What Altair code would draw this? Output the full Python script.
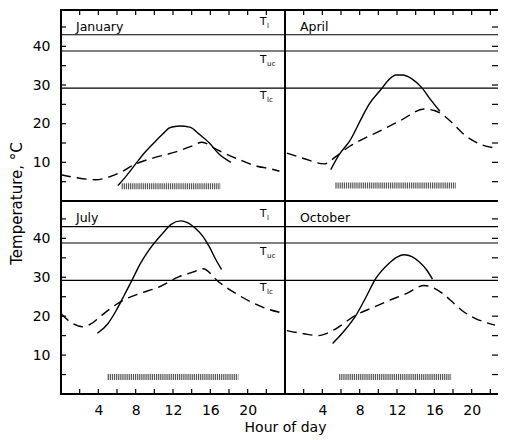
import altair as alt
import pandas as pd

FONT = "DejaVu Sans"

# ---- data ----
months = ["January", "April", "July", "October"]

jan_solid_h = [6.1, 7.0, 8.0, 9.0, 10.1, 10.9, 11.7, 12.7, 13.8, 14.8, 15.9, 16.9, 18.2]
jan_solid_t = [4.0, 6.5, 9.6, 12.6, 15.4, 17.3, 19.0, 19.4, 19.1, 17.3, 15.0, 12.2, 10.0]
jan_dash_h = [0.0, 1.5, 3.7, 5.0, 6.2, 8.0, 10.0, 12.3, 14.0, 15.1, 16.6, 19.1, 21.0, 22.3, 23.4]
jan_dash_t = [6.8, 6.1, 5.5, 6.1, 7.2, 9.6, 11.2, 12.7, 14.2, 15.2, 13.4, 10.7, 9.0, 8.4, 7.7]

apr_solid_h = [4.9, 5.8, 6.9, 8.3, 9.0, 10.3, 11.1, 11.9, 12.6, 13.6, 14.7, 15.6, 16.6]
apr_solid_t = [8.1, 12.0, 15.4, 21.9, 25.0, 28.9, 31.3, 32.6, 32.6, 31.6, 29.2, 26.2, 23.2]
apr_dash_h = [0.2, 2.0, 4.2, 5.5, 6.9, 8.5, 10.4, 12.5, 14.9, 16.0, 16.9, 18.0, 19.0, 20.0, 21.1, 22.3]
apr_dash_t = [12.4, 11.0, 9.6, 11.6, 14.1, 16.2, 18.4, 21.0, 23.8, 23.4, 22.3, 20.0, 17.6, 15.8, 14.5, 13.8]

jul_solid_h = [3.9, 5.0, 5.9, 6.8, 7.6, 8.5, 9.4, 10.9, 11.8, 12.8, 13.6, 14.4, 15.2, 15.9, 16.6, 17.2]
jul_solid_t = [15.6, 18.0, 21.4, 25.5, 29.2, 33.5, 36.9, 41.3, 43.6, 44.5, 44.0, 42.6, 40.5, 37.8, 34.5, 32.0]
jul_dash_h = [0.0, 1.0, 2.3, 3.2, 4.1, 5.2, 6.6, 8.4, 10.5, 12.6, 14.1, 15.2, 16.9, 19.1, 20.5, 22.2, 23.4]
jul_dash_t = [20.6, 18.5, 17.3, 18.0, 19.7, 21.8, 24.0, 25.8, 27.5, 30.1, 31.3, 32.2, 28.8, 25.3, 23.5, 21.8, 21.0]

oct_solid_h = [5.1, 6.2, 7.6, 8.7, 9.7, 11.1, 12.0, 12.75, 13.6, 14.4, 15.2, 15.8]
oct_solid_t = [13.0, 15.8, 20.2, 25.0, 29.6, 33.5, 35.2, 35.8, 35.3, 33.9, 31.8, 29.5]
oct_dash_h = [0.2, 2.0, 3.6, 4.5, 5.4, 7.6, 9.5, 11.1, 13.0, 14.9, 15.8, 16.9, 18.0, 19.0, 20.3, 21.5, 22.5]
oct_dash_t = [16.3, 15.5, 15.0, 15.6, 16.7, 20.3, 22.3, 24.0, 25.8, 27.9, 27.4, 25.8, 23.5, 21.4, 19.5, 18.4, 17.7]

# hatched daylight bars: start hour, end hour, level
bar_start = [6.5, 5.4, 5.0, 5.8]
bar_end = [17.1, 18.3, 19.0, 17.8]
bar_level = [3.8, 4.0, 4.4, 4.4]

# critical temperatures T_l, T_uc, T_lc
thresh_names = ["l", "uc", "lc"]
thresh_vals = [43.0, 38.8, 29.2]

y_labels = [10, 20, 30, 40]
y_ticks = [5, 10, 15, 20, 25, 30, 35, 40, 45]
x_labels = [4, 8, 12, 16, 20]
x_ticks = [2, 4, 6, 8, 10, 12, 14, 16, 18, 20, 22]


def panel(name, sh, st, dh, dt, bi, left, top, w, h, xmax, ymax):
    xs = alt.Scale(domain=[0, xmax], nice=False, zero=False)
    ys = alt.Scale(domain=[0, ymax], nice=False, zero=False)
    if left and top:
        yaxis = alt.Axis(values=y_labels, ticks=False, domain=False, grid=False,
                         labelFont=FONT, labelFontSize=14, labelPadding=11,
                         labelColor="black",
                         title="Temperature, °C", titleFont=FONT, titleFontSize=15,
                         titleFontWeight="normal", titleAngle=270, titleX=-45,
                         titleY=193, titleAlign="center", titleBaseline="middle",
                         titleColor="black")
    elif left:
        yaxis = alt.Axis(values=y_labels, ticks=False, domain=False, grid=False,
                         labelFont=FONT, labelFontSize=14, labelPadding=11,
                         labelColor="black", title=None)
    else:
        yaxis = None
    if not top and left:
        xaxis = alt.Axis(values=x_labels, ticks=False, domain=False, grid=False,
                         labelFont=FONT, labelFontSize=14, labelPadding=9,
                         labelColor="black",
                         title="Hour of day", titleFont=FONT, titleFontSize=14,
                         titleFontWeight="normal", titleX=w, titleY=33,
                         titleAlign="center", titleBaseline="middle",
                         titleColor="black")
    elif not top:
        xaxis = alt.Axis(values=x_labels, ticks=False, domain=False, grid=False,
                         labelFont=FONT, labelFontSize=14, labelPadding=9,
                         labelColor="black", title=None)
    else:
        xaxis = None

    def X(f):
        return alt.X(f, type="quantitative", scale=xs, axis=xaxis)

    def Y(f):
        return alt.Y(f, type="quantitative", scale=ys, axis=yaxis)

    solid = pd.DataFrame({"h": sh, "t": st})
    dash = pd.DataFrame({"h": dh, "t": dt})
    bar = pd.DataFrame({"s": [bar_start[bi]], "e": [bar_end[bi]], "t": [bar_level[bi]]})
    thr = pd.DataFrame({"name": thresh_names, "t": thresh_vals})
    yt = pd.DataFrame({"v": y_ticks})
    xt = pd.DataFrame({"v": [v for v in x_ticks if v < xmax]})

    layers = []
    layers.append(alt.Chart(thr).mark_rule(color="black", strokeWidth=1.2).encode(y=Y("t")))
    layers.append(alt.Chart(solid).mark_line(color="black", strokeWidth=1.4, interpolate="monotone")
                  .encode(x=X("h"), y=Y("t")))
    layers.append(alt.Chart(dash).mark_line(color="black", strokeWidth=1.4, interpolate="monotone",
                                            strokeDash=[10, 6], clip=True)
                  .encode(x=X("h"), y=Y("t")))
    layers.append(alt.Chart(bar).mark_rule(color="#555555", strokeWidth=6, strokeDash=[1.2, 0.9])
                  .encode(x=X("s"), x2="e", y=Y("t")))
    layers.append(alt.Chart(bar).mark_text(text=name, align="left", baseline="middle",
                                           font=FONT, fontSize=12.5, color="black")
                  .encode(x=alt.value(15), y=alt.value(17)))
    if left:
        offs = {"l": -13, "uc": 9, "lc": 8}
        for nm in thresh_names:
            one = thr[thr["name"] == nm]
            layers.append(alt.Chart(one).mark_text(text="T", align="left", baseline="middle",
                                                   font=FONT, fontSize=10.5, color="black",
                                                   dy=offs[nm])
                          .encode(x=alt.value(199), y=Y("t")))
            layers.append(alt.Chart(one).mark_text(align="left", baseline="middle",
                                                   font=FONT, fontSize=7, color="black",
                                                   dy=offs[nm] + 4)
                          .encode(x=alt.value(206), y=Y("t"), text="name:N"))
        layers.append(alt.Chart(yt).mark_rule(color="black", strokeWidth=1.2)
                      .encode(y=Y("v"), x=alt.value(0), x2=alt.value(5)))
    else:
        layers.append(alt.Chart(yt).mark_rule(color="black", strokeWidth=1.2)
                      .encode(y=Y("v"), x=alt.value(w - 6), x2=alt.value(w)))
        layers.append(alt.Chart(bar).mark_rule(color="black", strokeWidth=2)
                      .encode(y=alt.value(0), x=alt.value(0), x2=alt.value(w)))
        layers.append(alt.Chart(bar).mark_rule(color="black", strokeWidth=2)
                      .encode(y=alt.value(h), x=alt.value(0), x2=alt.value(w)))
    if top:
        layers.append(alt.Chart(xt).mark_rule(color="black", strokeWidth=1.2)
                      .encode(x=X("v"), y=alt.value(0), y2=alt.value(5)))
    else:
        layers.append(alt.Chart(xt).mark_rule(color="black", strokeWidth=1.2)
                      .encode(x=X("v"), y=alt.value(h - 5), y2=alt.value(h)))

    if left:
        view = alt.ViewBackground(stroke="black", strokeWidth=2)
    else:
        view = alt.ViewBackground(strokeWidth=0, strokeOpacity=0)
    return alt.layer(*layers).properties(width=w, height=h, view=view)


WL, WR = 224, 213
HT, HB = 191, 193
PX = WL / 24.0
tl = panel(months[0], jan_solid_h, jan_solid_t, jan_dash_h, jan_dash_t, 0, True, True, WL, HT, 24, 49.4)
tr = panel(months[1], apr_solid_h, apr_solid_t, apr_dash_h, apr_dash_t, 1, False, True, WR, HT, WR / PX, 49.4)
bl = panel(months[2], jul_solid_h, jul_solid_t, jul_dash_h, jul_dash_t, 2, True, False, WL, HB, 24, 49.6)
br = panel(months[3], oct_solid_h, oct_solid_t, oct_dash_h, oct_dash_t, 3, False, False, WR, HB, WR / PX, 49.6)

chart = alt.concat(tl, tr, bl, br, columns=2, spacing=0, bounds="flush").properties(
    padding=0).configure_view(strokeWidth=0)

chart.save("out.html", embed_options={"renderer": "svg", "actions": False})
